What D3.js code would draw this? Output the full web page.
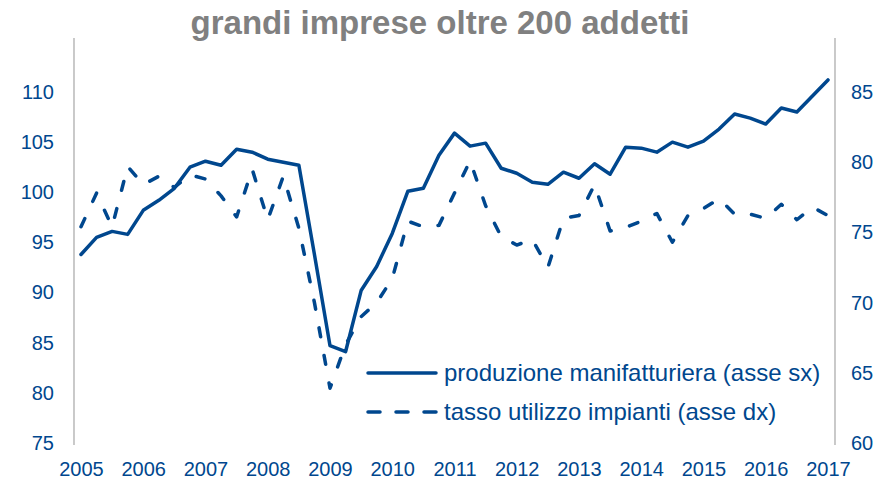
<!DOCTYPE html>
<html lang="it">
    <head>
        <meta charset="utf-8">
        <title>grandi imprese oltre 200 addetti</title>
        <script src="https://d3js.org/d3.v7.min.js"></script>
        <style type="text/css">
            body { margin: 0; background: #fff; }
            text { font-family: "Liberation Sans", Arial, sans-serif; }
        </style>
    </head>
    <body>
        <script>
            // data: quarterly, 2005 Q1 .. 2017 Q1
            var years = ["2005", "2006", "2007", "2008", "2009", "2010", "2011",
                         "2012", "2013", "2014", "2015", "2016", "2017"];

            var produzione = [
                93.8, 95.5, 96.1, 95.8, 98.2, 99.2, 100.4, 102.5,
                103.1, 102.7, 104.3, 104.0, 103.3, 103.0, 102.7, 93.8,
                84.7, 84.1, 90.2, 92.6, 95.9, 100.1, 100.4, 103.7,
                105.9, 104.6, 104.9, 102.4, 101.9, 101.0, 100.8, 102.0,
                101.4, 102.85, 101.8, 104.5, 104.4, 104.0, 105.0, 104.5,
                105.1, 106.3, 107.8, 107.4, 106.8, 108.4, 108.0, 109.6,
                111.2
            ];

            var utilizzo = [
                75.4, 77.8, 75.4, 79.7, 78.4, 79.0, 78.2, 79.1,
                78.8, 77.6, 76.1, 79.5, 75.9, 79.0, 75.3, 70.0,
                63.9, 67.0, 69.0, 70.0, 71.7, 75.8, 75.4, 75.5,
                77.8, 80.1, 76.9, 74.7, 74.1, 74.5, 72.5, 76.0,
                76.2, 78.4, 75.1, 75.35, 75.8, 76.35, 74.3, 76.2,
                76.7, 77.4, 76.3, 76.3, 76.0, 77.0, 75.9, 76.8,
                76.2
            ];

            var leftTicks = [75, 80, 85, 90, 95, 100, 105, 110];
            var rightTicks = [60, 65, 70, 75, 80, 85];

            var title = "grandi imprese oltre 200 addetti";
            var legendLabels = ["produzione manifatturiera (asse sx)",
                                "tasso utilizzo impianti (asse dx)"];

            // configuration code
            var outerWidth = 896;
            var outerHeight = 482;
            var blue = "#00478e";
            var grey = "#a6a6a6";

            var axisLeftX = 74;
            var axisRightX = 835;
            var plotTop = 38;
            var plotBottom = 445;

            var svg = d3.select("body")
                        .append("svg")
                        .attr("width", outerWidth)
                        .attr("height", outerHeight);

            var xScale = d3.scaleLinear().domain([0, produzione.length - 1]).range([81, 828]);
            var yLeft = d3.scaleLinear().domain([75, 110]).range([443, 92]);
            var yRight = d3.scaleLinear().domain([60, 85]).range([443, 92]);

            // title
            svg.append("text")
                .attr("x", 440)
                .attr("y", 34)
                .attr("text-anchor", "middle")
                .attr("font-size", 33)
                .attr("font-weight", "bold")
                .attr("fill", "#808080")
                .text(title);

            // axis lines
            [axisLeftX, axisRightX].forEach(function (x) {
                svg.append("line")
                    .attr("x1", x).attr("x2", x)
                    .attr("y1", plotTop).attr("y2", plotBottom)
                    .attr("stroke", grey)
                    .attr("stroke-width", 1.2);
            });

            var gl = svg.append("g")
                .attr("transform", "translate(" + axisLeftX + ",0)")
                .call(d3.axisLeft(yLeft).tickValues(leftTicks).tickSize(0).tickPadding(20));
            var gr = svg.append("g")
                .attr("transform", "translate(" + axisRightX + ",0)")
                .call(d3.axisRight(yRight).tickValues(rightTicks).tickSize(0).tickPadding(16));
            var gx = svg.append("g")
                .attr("transform", "translate(0," + plotBottom + ")")
                .call(d3.axisBottom(xScale)
                    .tickValues(years.map(function (d, i) { return i * 4; }))
                    .tickFormat(function (d) { return years[d / 4]; })
                    .tickSize(0).tickPadding(17));

            [gl, gr, gx].forEach(function (g) {
                g.select(".domain").remove();
                g.selectAll("text")
                    .attr("font-family", "Liberation Sans, Arial, sans-serif")
                    .attr("font-size", 20)
                    .attr("fill", blue);
            });

            // lines
            var lineLeft = d3.line()
                .x(function (d, i) { return xScale(i); })
                .y(function (d) { return yLeft(d); });
            var lineRight = d3.line()
                .x(function (d, i) { return xScale(i); })
                .y(function (d) { return yRight(d); });

            svg.append("path")
                .datum(utilizzo)
                .attr("d", lineRight)
                .attr("fill", "none")
                .attr("stroke", blue)
                .attr("stroke-width", 3.5)
                .attr("stroke-linecap", "round")
                .attr("stroke-linejoin", "round")
                .attr("stroke-dasharray", "9,19");

            svg.append("path")
                .datum(produzione)
                .attr("d", lineLeft)
                .attr("fill", "none")
                .attr("stroke", blue)
                .attr("stroke-width", 3.5)
                .attr("stroke-linecap", "round")
                .attr("stroke-linejoin", "round");

            // legend
            var legend = svg.append("g").attr("transform", "translate(368,373)");
            legendLabels.forEach(function (label, i) {
                var row = legend.append("g").attr("transform", "translate(0," + (i * 39) + ")");
                row.append("line")
                    .attr("x1", 0).attr("x2", 68)
                    .attr("stroke", blue)
                    .attr("stroke-width", 3.5)
                    .attr("stroke-linecap", "round")
                    .attr("stroke-dasharray", i === 0 ? null : "12,16");
                row.append("text")
                    .attr("x", 76)
                    .attr("y", 8)
                    .attr("font-size", 24)
                    .attr("fill", blue)
                    .text(label);
            });
        </script>
    </body>
</html>
